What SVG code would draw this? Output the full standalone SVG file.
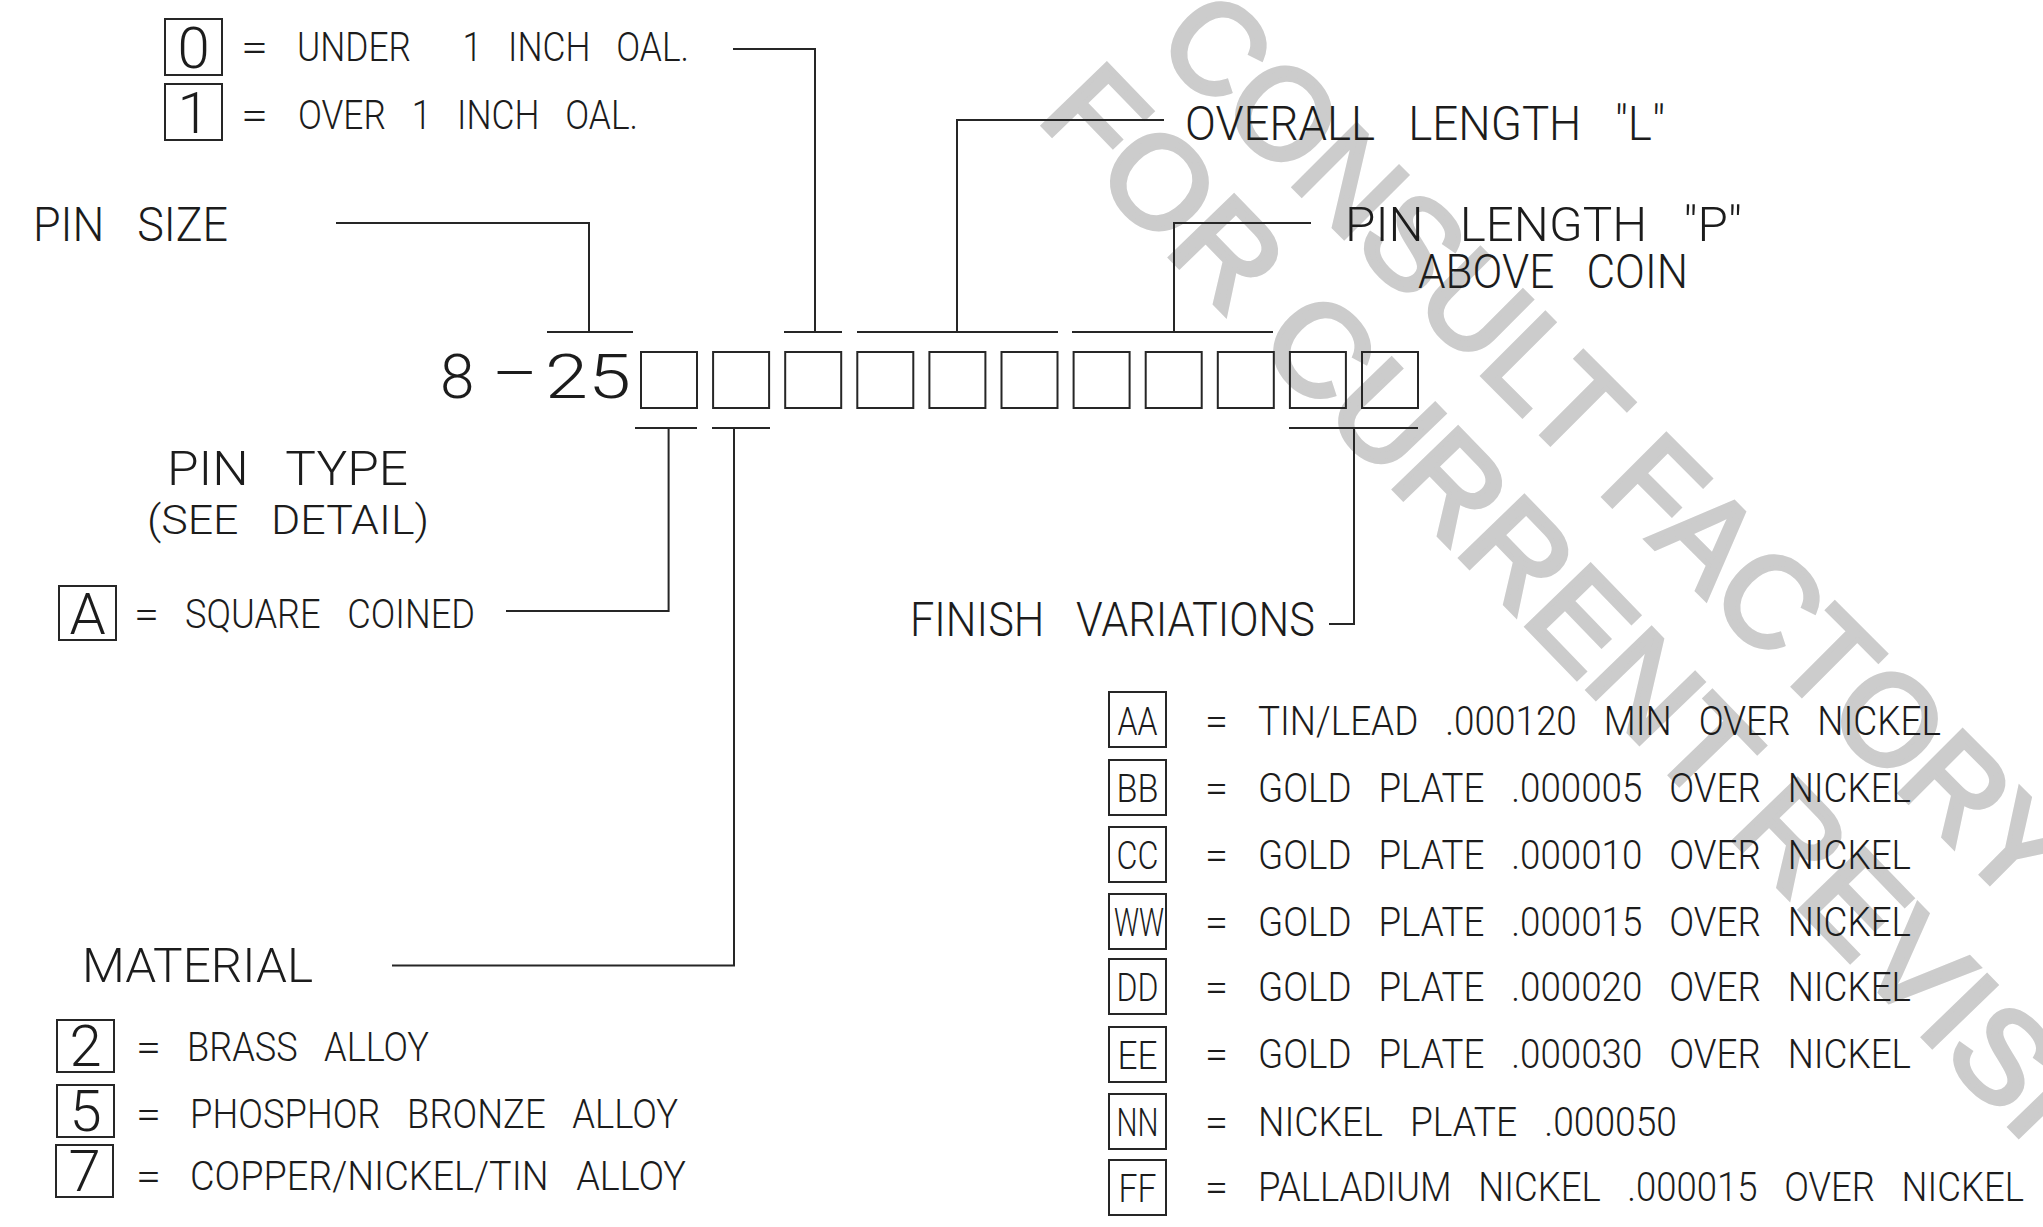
<svg xmlns="http://www.w3.org/2000/svg" width="2043" height="1227" viewBox="0 0 2043 1227">
<style>
.t{font-family:Roboto,"Liberation Sans",Arial,sans-serif;font-weight:300;fill:#1c1c1c;white-space:pre}
.s{font-size:40px}
.m{font-size:49px}
.d{font-size:58px;text-anchor:middle}
.lb{font-size:38px;text-anchor:middle}
.ln{fill:none;stroke:#262626;stroke-width:2}
.bx{fill:none;stroke:#262626;stroke-width:2}
.wm{font-family:"Liberation Sans",Arial,sans-serif;font-size:128px;fill:#cccccc;stroke:#cccccc;stroke-width:5;white-space:pre}
</style>
<rect width="2043" height="1227" fill="#ffffff"/>
<g id="watermark">
<text class="wm" xml:space="preserve" transform="translate(1153,46) rotate(45)" textLength="1220" lengthAdjust="spacingAndGlyphs">CONSULT FACTORY</text>
<text class="wm" xml:space="preserve" transform="translate(1036,118) rotate(46)" textLength="1625" lengthAdjust="spacingAndGlyphs">FOR CURRENT REVISION</text>
</g>
<g id="connectors">
<path class="ln" d="M336,223 H589 V332 M547,332 H633"/>
<path class="ln" d="M733,49 H815 V332 M784,332 H842"/>
<path class="ln" d="M1164,120 H957 V332 M857,332 H1058"/>
<path class="ln" d="M1311,223 H1174 V332 M1072,332 H1273"/>
<path class="ln" d="M668.6,428 V611 H506 M635,428 H697"/>
<path class="ln" d="M734,428 V965.5 H392 M712,428 H770"/>
<path class="ln" d="M1354,428 V624 H1329 M1289,428 H1418"/>
</g>
<g id="part-number">
<text class="t" y="398" style="font-size:62px"><tspan x="440">8</tspan><tspan x="494" dy="-6" textLength="42" lengthAdjust="spacingAndGlyphs">-</tspan><tspan x="545" dy="6" textLength="86" lengthAdjust="spacingAndGlyphs">25</tspan></text>
<rect class="bx" x="641" y="352" width="56" height="56"/>
<rect class="bx" x="713.1" y="352" width="56" height="56"/>
<rect class="bx" x="785.2" y="352" width="56" height="56"/>
<rect class="bx" x="857.3" y="352" width="56" height="56"/>
<rect class="bx" x="929.4" y="352" width="56" height="56"/>
<rect class="bx" x="1001.5" y="352" width="56" height="56"/>
<rect class="bx" x="1073.6" y="352" width="56" height="56"/>
<rect class="bx" x="1145.7" y="352" width="56" height="56"/>
<rect class="bx" x="1217.8" y="352" width="56" height="56"/>
<rect class="bx" x="1289.9" y="352" width="56" height="56"/>
<rect class="bx" x="1362" y="352" width="56" height="56"/>
</g>
<g id="oal-legend">
<rect class="bx" x="165" y="19" width="57" height="56"/>
<text class="t d" x="193.5" y="68">0</text>
<text class="t s" x="241" y="61" textLength="27" lengthAdjust="spacingAndGlyphs">=</text>
<text class="t s" xml:space="preserve" x="297" y="61" textLength="392" lengthAdjust="spacingAndGlyphs">UNDER      1   INCH   OAL.</text>
<rect class="bx" x="165" y="84" width="57" height="56"/>
<text class="t d" x="193.5" y="133">1</text>
<text class="t s" x="241" y="129" textLength="27" lengthAdjust="spacingAndGlyphs">=</text>
<text class="t s" xml:space="preserve" x="298" y="129" textLength="340" lengthAdjust="spacingAndGlyphs">OVER   1   INCH   OAL.</text>
</g>
<g id="pin-size">
<text class="t m" xml:space="preserve" x="33" y="241" textLength="195" lengthAdjust="spacingAndGlyphs">PIN   SIZE</text>
</g>
<g id="overall-length">
<text class="t m" xml:space="preserve" x="1185" y="140" textLength="480" lengthAdjust="spacingAndGlyphs">OVERALL   LENGTH   "L"</text>
</g>
<g id="pin-length">
<text class="t m" xml:space="preserve" x="1345" y="241" textLength="397" lengthAdjust="spacingAndGlyphs">PIN   LENGTH   "P"</text>
<text class="t m" xml:space="preserve" x="1418" y="288" textLength="270" lengthAdjust="spacingAndGlyphs">ABOVE   COIN</text>
</g>
<g id="pin-type">
<text class="t m" xml:space="preserve" x="167" y="485" textLength="241" lengthAdjust="spacingAndGlyphs">PIN   TYPE</text>
<text class="t s" xml:space="preserve" x="147" y="534" textLength="282" lengthAdjust="spacingAndGlyphs">(SEE   DETAIL)</text>
<rect class="bx" x="59" y="586" width="57" height="54"/>
<text class="t d" x="87.5" y="634">A</text>
<text class="t s" x="134" y="628" textLength="25" lengthAdjust="spacingAndGlyphs">=</text>
<text class="t s" xml:space="preserve" x="185" y="628" textLength="290" lengthAdjust="spacingAndGlyphs">SQUARE   COINED</text>
</g>
<g id="material">
<text class="t m" x="82" y="982" textLength="231" lengthAdjust="spacingAndGlyphs">MATERIAL</text>
<rect class="bx" x="57" y="1020" width="57" height="52"/>
<text class="t d" x="85.5" y="1066">2</text>
<text class="t s" x="136" y="1061" textLength="25" lengthAdjust="spacingAndGlyphs">=</text>
<text class="t s" xml:space="preserve" x="187" y="1061" textLength="242" lengthAdjust="spacingAndGlyphs">BRASS   ALLOY</text>
<rect class="bx" x="57" y="1085" width="57" height="52"/>
<text class="t d" x="85.5" y="1131">5</text>
<text class="t s" x="136" y="1128" textLength="25" lengthAdjust="spacingAndGlyphs">=</text>
<text class="t s" xml:space="preserve" x="190" y="1128" textLength="488" lengthAdjust="spacingAndGlyphs">PHOSPHOR   BRONZE   ALLOY</text>
<rect class="bx" x="56" y="1145" width="57" height="52"/>
<text class="t d" x="84.5" y="1191">7</text>
<text class="t s" x="136" y="1190" textLength="25" lengthAdjust="spacingAndGlyphs">=</text>
<text class="t s" xml:space="preserve" x="190" y="1190" textLength="496" lengthAdjust="spacingAndGlyphs">COPPER/NICKEL/TIN   ALLOY</text>
</g>
<g id="finish-variations">
<text class="t m" xml:space="preserve" x="910" y="636" textLength="405" lengthAdjust="spacingAndGlyphs">FINISH   VARIATIONS</text>
</g>
<g id="finish-table">
<rect class="bx" x="1109" y="692" width="57" height="55"/>
<text class="t lb" x="1137.5" y="735" textLength="40" lengthAdjust="spacingAndGlyphs">AA</text>
<text class="t s" x="1205" y="735" textLength="23" lengthAdjust="spacingAndGlyphs">=</text>
<text class="t s" xml:space="preserve" x="1258" y="735" textLength="683" lengthAdjust="spacingAndGlyphs">TIN/LEAD   .000120   MIN   OVER   NICKEL</text>
<rect class="bx" x="1109" y="760" width="57" height="55"/>
<text class="t lb" x="1137.5" y="802" textLength="42" lengthAdjust="spacingAndGlyphs">BB</text>
<text class="t s" x="1205" y="802" textLength="23" lengthAdjust="spacingAndGlyphs">=</text>
<text class="t s" xml:space="preserve" x="1258" y="802" textLength="653" lengthAdjust="spacingAndGlyphs">GOLD   PLATE   .000005   OVER   NICKEL</text>
<rect class="bx" x="1109" y="827" width="57" height="55"/>
<text class="t lb" x="1137.5" y="869" textLength="42" lengthAdjust="spacingAndGlyphs">CC</text>
<text class="t s" x="1205" y="869" textLength="23" lengthAdjust="spacingAndGlyphs">=</text>
<text class="t s" xml:space="preserve" x="1258" y="869" textLength="653" lengthAdjust="spacingAndGlyphs">GOLD   PLATE   .000010   OVER   NICKEL</text>
<rect class="bx" x="1109" y="894" width="57" height="55"/>
<text class="t lb" x="1139" y="936" textLength="50" lengthAdjust="spacingAndGlyphs">WW</text>
<text class="t s" x="1205" y="936" textLength="23" lengthAdjust="spacingAndGlyphs">=</text>
<text class="t s" xml:space="preserve" x="1258" y="936" textLength="653" lengthAdjust="spacingAndGlyphs">GOLD   PLATE   .000015   OVER   NICKEL</text>
<rect class="bx" x="1109" y="959" width="57" height="55"/>
<text class="t lb" x="1137.5" y="1001" textLength="42" lengthAdjust="spacingAndGlyphs">DD</text>
<text class="t s" x="1205" y="1001" textLength="23" lengthAdjust="spacingAndGlyphs">=</text>
<text class="t s" xml:space="preserve" x="1258" y="1001" textLength="653" lengthAdjust="spacingAndGlyphs">GOLD   PLATE   .000020   OVER   NICKEL</text>
<rect class="bx" x="1109" y="1027" width="57" height="55"/>
<text class="t lb" x="1137.5" y="1069" textLength="40" lengthAdjust="spacingAndGlyphs">EE</text>
<text class="t s" x="1205" y="1068" textLength="23" lengthAdjust="spacingAndGlyphs">=</text>
<text class="t s" xml:space="preserve" x="1258" y="1068" textLength="653" lengthAdjust="spacingAndGlyphs">GOLD   PLATE   .000030   OVER   NICKEL</text>
<rect class="bx" x="1109" y="1094" width="57" height="55"/>
<text class="t lb" x="1137.5" y="1136" textLength="42" lengthAdjust="spacingAndGlyphs">NN</text>
<text class="t s" x="1205" y="1136" textLength="23" lengthAdjust="spacingAndGlyphs">=</text>
<text class="t s" xml:space="preserve" x="1258" y="1136" textLength="419" lengthAdjust="spacingAndGlyphs">NICKEL   PLATE   .000050</text>
<rect class="bx" x="1109" y="1160" width="57" height="55"/>
<text class="t lb" x="1137.5" y="1202" textLength="38" lengthAdjust="spacingAndGlyphs">FF</text>
<text class="t s" x="1205" y="1201" textLength="23" lengthAdjust="spacingAndGlyphs">=</text>
<text class="t s" xml:space="preserve" x="1258" y="1201" textLength="766" lengthAdjust="spacingAndGlyphs">PALLADIUM   NICKEL   .000015   OVER   NICKEL</text>
</g>
</svg>
